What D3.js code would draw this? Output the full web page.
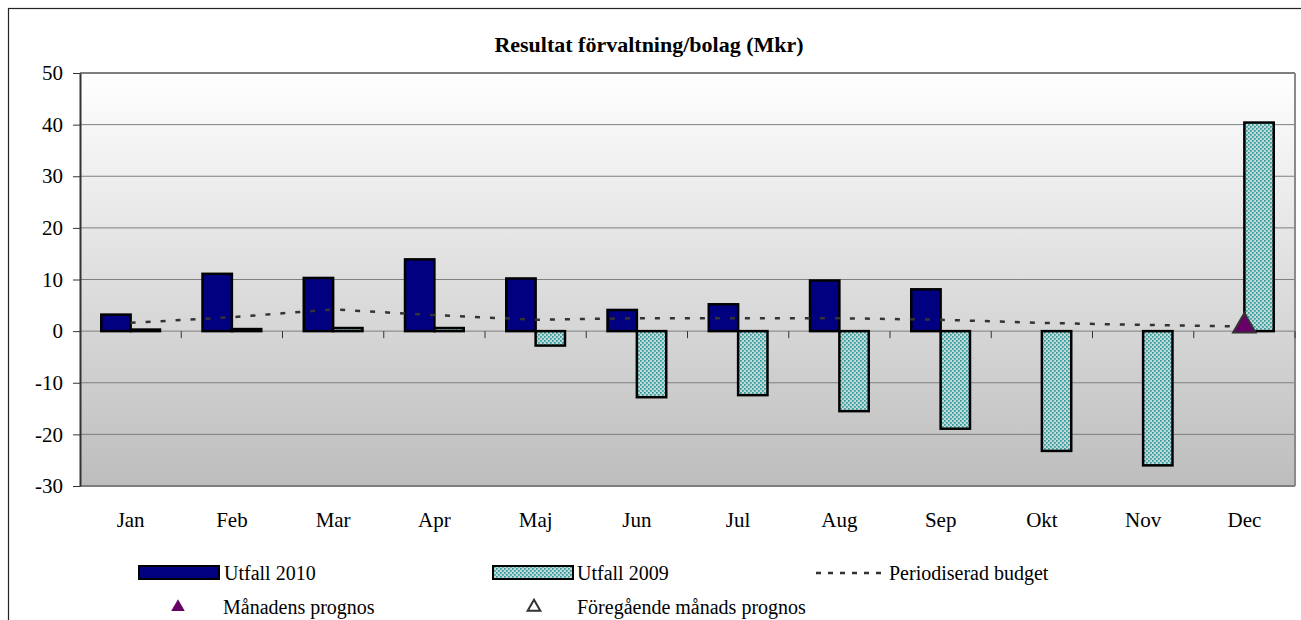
<!DOCTYPE html>
<html>
<head>
<meta charset="utf-8">
<script src="https://cdn.jsdelivr.net/npm/d3@7"></script>
<style>
  body { margin: 0; background: #fff; }
  svg { display: block; }
  text { font-family: "Liberation Serif", "Times New Roman", serif; fill: #000; }
</style>
</head>
<body>
<div id="chart"></div>
<script>
const months = ['Jan', 'Feb', 'Mar', 'Apr', 'Maj', 'Jun', 'Jul', 'Aug', 'Sep', 'Okt', 'Nov', 'Dec'];
const utfall2010 = [3.2, 11.1, 10.3, 13.9, 10.2, 4.1, 5.2, 9.8, 8.1, null, null, null];
const utfall2009 = [0.3, 0.4, 0.6, 0.6, -2.8, -12.8, -12.4, -15.5, -18.9, -23.2, -26.0, 40.4];
const budget = [1.6, 2.7, 4.2, 3.1, 2.2, 2.5, 2.5, 2.5, 2.2, 1.6, 1.2, 0.9];
const prognos = [{month: 'Dec', value: 1.0}];
const yTicks = [-30, -20, -10, 0, 10, 20, 30, 40, 50];

const width = 1301, height = 620;
const margin = {left: 80, top: 73, right: 1295, bottom: 486};

const svg = d3.select('#chart').append('svg')
    .attr('width', width)
    .attr('height', height);

const defs = svg.append('defs');
const grad = defs.append('linearGradient')
    .attr('id', 'bg').attr('x1', 0).attr('y1', 0).attr('x2', 0).attr('y2', 1);
grad.append('stop').attr('offset', '0%').attr('stop-color', '#ffffff');
grad.append('stop').attr('offset', '100%').attr('stop-color', '#bdbdbd');

// dotted fill for 2009 bars
const pat = defs.append('pattern')
    .attr('id', 'dots').attr('patternUnits', 'userSpaceOnUse')
    .attr('width', 4).attr('height', 4);
pat.append('rect').attr('width', 4).attr('height', 4).attr('fill', '#c3d9d9');
pat.append('rect').attr('x', 0).attr('y', 0).attr('width', 1.7).attr('height', 1.7).attr('fill', '#2e9898');
pat.append('rect').attr('x', 2).attr('y', 2).attr('width', 1.7).attr('height', 1.7).attr('fill', '#2e9898');

// outer chart frame
svg.append('rect')
    .attr('x', 8.5).attr('y', 8.5)
    .attr('width', 1400).attr('height', 700)
    .attr('fill', 'none').attr('stroke', '#222').attr('stroke-width', 1.2);

const x0 = d3.scaleBand()
    .domain(months)
    .range([margin.left, margin.right])
    .paddingInner(0.42)
    .paddingOuter(0.21);
const x1 = d3.scaleBand()
    .domain(['2010', '2009'])
    .range([0, x0.bandwidth()]);
const xc = d3.scaleBand().domain(months).range([margin.left, margin.right]);
const y = d3.scaleLinear().domain([-30, 50]).range([margin.bottom, margin.top]);

// plot area
svg.append('rect')
    .attr('x', margin.left).attr('y', margin.top)
    .attr('width', margin.right - margin.left)
    .attr('height', margin.bottom - margin.top)
    .attr('fill', 'url(#bg)');

// gridlines
svg.append('g').selectAll('line')
    .data(yTicks)
    .enter().append('line')
    .attr('x1', margin.left).attr('x2', margin.right)
    .attr('y1', d => y(d)).attr('y2', d => y(d))
    .attr('stroke', '#7f7f7f').attr('stroke-width', d => (d === 50 || d === -30) ? 2 : 1);

// right edge of plot
svg.append('line')
    .attr('x1', margin.right).attr('x2', margin.right)
    .attr('y1', margin.top).attr('y2', margin.bottom)
    .attr('stroke', '#8a8a8a').attr('stroke-width', 2);

// y axis
const yAxis = d3.axisLeft(y).tickValues(yTicks).tickSize(7).tickSizeOuter(0).tickPadding(10)
    .tickFormat(d => String(d));
const ya = svg.append('g')
    .attr('transform', `translate(${margin.left},0)`)
    .call(yAxis);
ya.attr('font-family', null).attr('font-size', null);
ya.select('.domain').attr('stroke', '#333').attr('stroke-width', 2);
ya.selectAll('.tick line').attr('stroke', '#333');
ya.selectAll('text').style('font-size', '21px').attr('fill', '#000');

// x category ticks on zero line
svg.append('g').selectAll('line')
    .data(months)
    .enter().append('line')
    .attr('x1', d => xc(d) + xc.step())
    .attr('x2', d => xc(d) + xc.step())
    .attr('y1', y(0)).attr('y2', y(0) + 7)
    .attr('stroke', '#333');

// x labels
svg.append('g').selectAll('text')
    .data(months)
    .enter().append('text')
    .attr('x', d => xc(d) + xc.bandwidth() / 2)
    .attr('y', 527)
    .attr('text-anchor', 'middle')
    .style('font-size', '21px')
    .text(d => d);

// bars 2010
svg.append('g').selectAll('rect')
    .data(months.map((m, i) => ({m, v: utfall2010[i]})).filter(d => d.v !== null))
    .enter().append('rect')
    .attr('x', d => x0(d.m) + x1('2010'))
    .attr('y', d => y(Math.max(0, d.v)))
    .attr('width', x1.bandwidth())
    .attr('height', d => Math.abs(y(d.v) - y(0)))
    .attr('fill', '#000080')
    .attr('stroke', '#000').attr('stroke-width', 2.5);

// bars 2009
svg.append('g').selectAll('rect')
    .data(months.map((m, i) => ({m, v: utfall2009[i]})))
    .enter().append('rect')
    .attr('x', d => x0(d.m) + x1('2009'))
    .attr('y', d => y(Math.max(0, d.v)))
    .attr('width', x1.bandwidth())
    .attr('height', d => Math.abs(y(d.v) - y(0)))
    .attr('fill', 'url(#dots)')
    .attr('stroke', '#000').attr('stroke-width', 2.5);

// budget line
const line = d3.line()
    .x((d, i) => xc(months[i]) + xc.bandwidth() / 2)
    .y(d => y(d));
svg.append('path')
    .datum(budget)
    .attr('d', line)
    .attr('fill', 'none')
    .attr('stroke', '#333')
    .attr('stroke-width', 2.5)
    .attr('stroke-dasharray', '5,10');

// prognos marker
const tri = d3.symbol().type(d3.symbolTriangle).size(220);
svg.append('g').selectAll('path')
    .data(prognos)
    .enter().append('path')
    .attr('d', tri)
    .attr('transform', d => `translate(${xc(d.month) + xc.bandwidth() / 2},${y(d.value)})`)
    .attr('fill', '#660066')
    .attr('stroke', '#333').attr('stroke-width', 2);

// legend
const lg = svg.append('g').style('font-size', '20px');
lg.append('rect').attr('x', 139).attr('y', 566).attr('width', 80).attr('height', 13)
    .attr('fill', '#000080').attr('stroke', '#000').attr('stroke-width', 2);
lg.append('text').attr('x', 224).attr('y', 580).text('Utfall 2010');
lg.append('rect').attr('x', 493).attr('y', 566).attr('width', 80).attr('height', 13)
    .attr('fill', 'url(#dots)').attr('stroke', '#000').attr('stroke-width', 2);
lg.append('text').attr('x', 577).attr('y', 580).text('Utfall 2009');
lg.append('line').attr('x1', 816).attr('x2', 888).attr('y1', 573).attr('y2', 573)
    .attr('stroke', '#333').attr('stroke-width', 2.5).attr('stroke-dasharray', '5,7');
lg.append('text').attr('x', 889).attr('y', 580).text('Periodiserad budget');

lg.append('path').attr('d', d3.symbol().type(d3.symbolTriangle).size(80))
    .attr('transform', 'translate(178,607)').attr('fill', '#660066');
lg.append('text').attr('x', 223).attr('y', 614).text('Månadens prognos');
lg.append('path').attr('d', d3.symbol().type(d3.symbolTriangle).size(70))
    .attr('transform', 'translate(534,607)').attr('fill', 'none')
    .attr('stroke', '#333').attr('stroke-width', 2);
lg.append('text').attr('x', 577).attr('y', 614).text('Föregående månads prognos');

// title
svg.append('text')
    .attr('x', 649).attr('y', 52)
    .attr('text-anchor', 'middle')
    .style('font-size', '22px').style('font-weight', 'bold')
    .text('Resultat förvaltning/bolag (Mkr)');
</script>
</body>
</html>
